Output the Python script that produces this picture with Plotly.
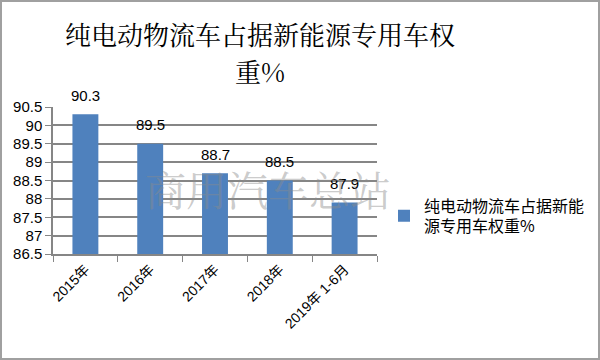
import plotly.graph_objects as go

categories = ["2015年", "2016年", "2017年", "2018年", "2019年 1-6月"]
values = [90.3, 89.5, 88.7, 88.5, 87.9]
series_name = "纯电动物流车占据新能<br>源专用车权重%"
title_line1 = "纯电动物流车占据新能源专用车权"
title_line2 = "重%"
watermark = "商用汽车总站"
y_ticks = [86.5, 87, 87.5, 88, 88.5, 89, 89.5, 90, 90.5]

PW, PH = 324, 147  # plot area size in px

fig = go.Figure()
fig.add_trace(go.Bar(
    x=categories, y=values, name=series_name,
    marker=dict(color="#4F81BD", line=dict(width=0)),
    showlegend=True,
))

label_annotations = [
    dict(x=c, y=v, xref="x", yref="y", text=str(v), showarrow=False,
         xanchor="center", yanchor="middle", yshift=19,
         font=dict(size=15, color="#000000", family="Liberation Sans, Arial"))
    for c, v in zip(categories, values)
]

fig.update_layout(
    width=600, height=360,
    margin=dict(l=53, r=223, t=107, b=106, autoexpand=False),
    paper_bgcolor="white", plot_bgcolor="white",
    bargap=0.6,
    legend=dict(x=(384 - 53) / PW, y=(254 - 216) / PH, xanchor="left", yanchor="middle",
                font=dict(size=16, color="#000000", family="Noto Sans CJK SC"),
                itemwidth=30, bgcolor="rgba(0,0,0,0)"),
    font=dict(family="Liberation Sans, Noto Sans CJK SC"),
    shapes=[dict(type="rect", xref="paper", yref="paper",
                 x0=(1 - 53) / PW, x1=(599 - 53) / PW,
                 y0=(254 - 359) / PH, y1=(254 - 1) / PH,
                 line=dict(color="#A0A0A0", width=2),
                 fillcolor="rgba(0,0,0,0)", layer="above")],
    annotations=label_annotations + [
        dict(text=title_line1, x=(260 - 53) / PW, y=(254 - 33) / PH, xref="paper", yref="paper",
             showarrow=False, xanchor="center", yanchor="middle",
             font=dict(size=26, color="#000000", family="Noto Serif CJK SC, Noto Sans CJK SC")),
        dict(text=title_line2, x=(260 - 53) / PW, y=(254 - 70) / PH, xref="paper", yref="paper",
             showarrow=False, xanchor="center", yanchor="middle",
             font=dict(size=26, color="#000000", family="Noto Serif CJK SC, Noto Sans CJK SC")),
        dict(text=watermark, x=(268 - 53) / PW, y=(254 - 188) / PH, xref="paper", yref="paper",
             showarrow=False, xanchor="center", yanchor="middle",
             font=dict(size=41, color="rgba(140,140,140,0.45)",
                       family="Noto Serif CJK SC, Noto Sans CJK SC")),
    ],
)

fig.update_yaxes(range=[86.5, 90.5], tickvals=y_ticks,
                 ticktext=[("%g" % t) for t in y_ticks],
                 automargin=False,
                 showgrid=True, gridcolor="#868686", gridwidth=1.5,
                 showline=True, linecolor="#868686", linewidth=1.5,
                 ticks="outside", ticklen=6, tickcolor="#868686",
                 tickfont=dict(size=15, color="#000000", family="Liberation Sans, Arial"),
                 zeroline=False)
fig.update_xaxes(automargin=False, showline=True, linecolor="#868686", linewidth=1.5,
                 ticks="outside", ticklen=6, tickcolor="#868686",
                 tickson="boundaries", tickangle=-45,
                 tickfont=dict(size=14, color="#000000", family="Liberation Sans, Noto Sans CJK SC"))

fig.write_html("out.html", config={"displayModeBar": False},
               post_script="document.body.style.margin='0px';")
